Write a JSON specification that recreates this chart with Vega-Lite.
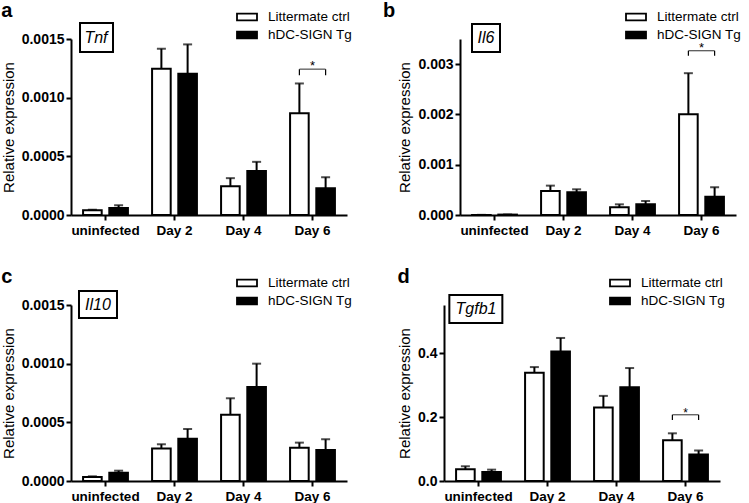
{
  "$schema": "https://vega.github.io/schema/vega-lite/v6.json",
  "background": "white",
  "padding": {"left": 1, "top": 1, "right": 0, "bottom": 0},
  "datasets": {
    "expr": [
      {"gene": "Tnf", "day": "uninfected", "group": "Littermate ctrl", "mean": 0.00004, "upper": 0.000045},
      {"gene": "Tnf", "day": "uninfected", "group": "hDC-SIGN Tg", "mean": 0.00006, "upper": 0.000083},
      {"gene": "Tnf", "day": "Day 2", "group": "Littermate ctrl", "mean": 0.001246, "upper": 0.001417},
      {"gene": "Tnf", "day": "Day 2", "group": "hDC-SIGN Tg", "mean": 0.001203, "upper": 0.001454},
      {"gene": "Tnf", "day": "Day 4", "group": "Littermate ctrl", "mean": 0.000245, "upper": 0.000314},
      {"gene": "Tnf", "day": "Day 4", "group": "hDC-SIGN Tg", "mean": 0.000374, "upper": 0.000453},
      {"gene": "Tnf", "day": "Day 6", "group": "Littermate ctrl", "mean": 0.000867, "upper": 0.001121},
      {"gene": "Tnf", "day": "Day 6", "group": "hDC-SIGN Tg", "mean": 0.000228, "upper": 0.000322},
      {"gene": "Il6", "day": "uninfected", "group": "Littermate ctrl", "mean": 0.000002, "upper": 0.000003},
      {"gene": "Il6", "day": "uninfected", "group": "hDC-SIGN Tg", "mean": 0.000008, "upper": 0.00001},
      {"gene": "Il6", "day": "Day 2", "group": "Littermate ctrl", "mean": 0.000478, "upper": 0.000584},
      {"gene": "Il6", "day": "Day 2", "group": "hDC-SIGN Tg", "mean": 0.000451, "upper": 0.000511},
      {"gene": "Il6", "day": "Day 4", "group": "Littermate ctrl", "mean": 0.000153, "upper": 0.000212},
      {"gene": "Il6", "day": "Day 4", "group": "hDC-SIGN Tg", "mean": 0.000212, "upper": 0.000279},
      {"gene": "Il6", "day": "Day 6", "group": "Littermate ctrl", "mean": 0.002004, "upper": 0.00282},
      {"gene": "Il6", "day": "Day 6", "group": "hDC-SIGN Tg", "mean": 0.000365, "upper": 0.000551},
      {"gene": "Il10", "day": "uninfected", "group": "Littermate ctrl", "mean": 0.000034, "upper": 0.00004},
      {"gene": "Il10", "day": "uninfected", "group": "hDC-SIGN Tg", "mean": 0.000071, "upper": 0.000088},
      {"gene": "Il10", "day": "Day 2", "group": "Littermate ctrl", "mean": 0.000278, "upper": 0.000313},
      {"gene": "Il10", "day": "Day 2", "group": "hDC-SIGN Tg", "mean": 0.000361, "upper": 0.000443},
      {"gene": "Il10", "day": "Day 4", "group": "Littermate ctrl", "mean": 0.000565, "upper": 0.000705},
      {"gene": "Il10", "day": "Day 4", "group": "hDC-SIGN Tg", "mean": 0.000801, "upper": 0.001},
      {"gene": "Il10", "day": "Day 6", "group": "Littermate ctrl", "mean": 0.000284, "upper": 0.000327},
      {"gene": "Il10", "day": "Day 6", "group": "hDC-SIGN Tg", "mean": 0.000264, "upper": 0.000355},
      {"gene": "Tgfb1", "day": "uninfected", "group": "Littermate ctrl", "mean": 0.0366, "upper": 0.046},
      {"gene": "Tgfb1", "day": "uninfected", "group": "hDC-SIGN Tg", "mean": 0.028, "upper": 0.0355},
      {"gene": "Tgfb1", "day": "Day 2", "group": "Littermate ctrl", "mean": 0.338, "upper": 0.356},
      {"gene": "Tgfb1", "day": "Day 2", "group": "hDC-SIGN Tg", "mean": 0.405, "upper": 0.447},
      {"gene": "Tgfb1", "day": "Day 4", "group": "Littermate ctrl", "mean": 0.23, "upper": 0.266},
      {"gene": "Tgfb1", "day": "Day 4", "group": "hDC-SIGN Tg", "mean": 0.293, "upper": 0.353},
      {"gene": "Tgfb1", "day": "Day 6", "group": "Littermate ctrl", "mean": 0.127, "upper": 0.149},
      {"gene": "Tgfb1", "day": "Day 6", "group": "hDC-SIGN Tg", "mean": 0.0825, "upper": 0.095}
    ],
    "sig": [
      {"gene": "Tnf", "day": "Day 6", "group": "Littermate ctrl", "top": 0.001243, "bottom": 0.00119, "mark": "*"},
      {"gene": "Tnf", "day": "Day 6", "group": "hDC-SIGN Tg", "top": 0.001243, "bottom": 0.00119, "mark": "*"},
      {"gene": "Il6", "day": "Day 6", "group": "Littermate ctrl", "top": 0.003267, "bottom": 0.003167, "mark": "*"},
      {"gene": "Il6", "day": "Day 6", "group": "hDC-SIGN Tg", "top": 0.003267, "bottom": 0.003167, "mark": "*"},
      {"gene": "Tgfb1", "day": "Day 6", "group": "Littermate ctrl", "top": 0.207, "bottom": 0.191, "mark": "*"},
      {"gene": "Tgfb1", "day": "Day 6", "group": "hDC-SIGN Tg", "top": 0.207, "bottom": 0.191, "mark": "*"}
    ],
    "genes": [
      {"gene": "Tnf", "label": "Tnf"},
      {"gene": "Il6", "label": "Il6"},
      {"gene": "Il10", "label": "Il10"},
      {"gene": "Tgfb1", "label": "Tgfb1"}
    ]
  },
  "config": {
    "font": "Liberation Sans",
    "view": {"stroke": null},
    "axis": {
      "domainColor": "black", "domainWidth": 2, "tickColor": "black", "tickWidth": 2, "tickSize": 5,
      "labelColor": "black", "labelFontWeight": "bold", "labelFontSize": 14, "labelFont": "Liberation Sans",
      "titleFont": "Liberation Sans", "titleFontWeight": "normal", "titleColor": "black", "grid": false
    },
    "axisX": {"labelAngle": 0, "labelFontSize": 13.5, "labelPadding": 3, "labelOverlap": false},
    "axisY": {"titleFontSize": 15, "titlePadding": 5, "labelPadding": 2},
    "legend": {
      "orient": "none", "title": null, "padding": 0, "labelFont": "Liberation Sans", "labelFontSize": 13.5,
      "labelColor": "black", "labelOffset": 10, "rowPadding": -1,
      "symbolType": "M-1,-0.33H1V0.33H-1Z", "symbolSize": 400, "symbolStrokeColor": "black", "symbolStrokeWidth": 1.8
    },
    "title": {"font": "Liberation Sans", "fontSize": 20, "fontWeight": "bold", "color": "black", "anchor": "start", "frame": "bounds", "offset": -15}
  },
  "spacing": 30,
  "resolve": {
    "scale": {"x": "independent", "xOffset": "independent", "y": "independent", "fill": "independent"},
    "axis": {"x": "independent", "y": "independent"},
    "legend": {"fill": "independent"}
  },
  "vconcat": [
    {
      "spacing": 29,
      "resolve": {
        "scale": {"x": "independent", "xOffset": "independent", "y": "independent", "fill": "independent"},
        "axis": {"x": "independent", "y": "independent"},
        "legend": {"fill": "independent"}
      },
      "hconcat": [
        {
          "width": 276, "height": 176,
          "title": {"text": "a"},
          "encoding": {
            "x": {"field": "day", "type": "nominal", "sort": ["uninfected", "Day 2", "Day 4", "Day 6"], "scale": {"paddingInner": 0.35, "paddingOuter": 0.175}, "axis": {"title": null}}
          },
          "layer": [
            {
              "data": {"name": "expr"}, "transform": [{"filter": "datum.gene === 'Tnf'"}],
              "mark": {"type": "bar", "stroke": "black", "strokeWidth": 2},
              "encoding": {
                "xOffset": {"field": "group", "type": "nominal", "sort": ["Littermate ctrl", "hDC-SIGN Tg"], "scale": {"paddingInner": 0.29, "paddingOuter": 0}},
                "y": {"field": "mean", "type": "quantitative", "scale": {"domain": [0, 0.0015], "nice": false}, "axis": {"values": [0, 0.0005, 0.001, 0.0015], "format": ".4f", "title": "Relative expression"}},
                "fill": {"field": "group", "type": "nominal", "scale": {"domain": ["Littermate ctrl", "hDC-SIGN Tg"], "range": ["white", "black"]}, "legend": {"legendX": 165, "legendY": -33}}
              }
            },
            {
              "data": {"name": "expr"}, "transform": [{"filter": "datum.gene === 'Tnf'"}],
              "mark": {"type": "rule", "color": "black", "strokeWidth": 2},
              "encoding": {"xOffset": {"field": "group", "type": "nominal", "sort": ["Littermate ctrl", "hDC-SIGN Tg"]}, "y": {"field": "mean", "type": "quantitative"}, "y2": {"field": "upper"}}
            },
            {
              "data": {"name": "expr"}, "transform": [{"filter": "datum.gene === 'Tnf'"}],
              "mark": {"type": "tick", "color": "black", "thickness": 2, "size": 9},
              "encoding": {"xOffset": {"field": "group", "type": "nominal", "sort": ["Littermate ctrl", "hDC-SIGN Tg"]}, "y": {"field": "upper", "type": "quantitative"}}
            },
            {
              "data": {"name": "sig"}, "transform": [{"filter": "datum.gene === 'Tnf'"}],
              "mark": {"type": "rule", "color": "black", "strokeWidth": 1.2},
              "encoding": {"xOffset": {"field": "group", "type": "nominal", "sort": ["Littermate ctrl", "hDC-SIGN Tg"]}, "y": {"field": "top", "type": "quantitative"}, "y2": {"field": "bottom"}}
            },
            {
              "data": {"name": "sig"}, "transform": [{"filter": "datum.gene === 'Tnf' && datum.group === 'Littermate ctrl'"}],
              "mark": {"type": "tick", "color": "black", "thickness": 1.2, "size": 26},
              "encoding": {"y": {"field": "top", "type": "quantitative"}}
            },
            {
              "data": {"name": "sig"}, "transform": [{"filter": "datum.gene === 'Tnf' && datum.group === 'Littermate ctrl'"}],
              "mark": {"type": "text", "fontSize": 13, "dy": 1, "baseline": "alphabetic", "color": "black"},
              "encoding": {"y": {"field": "top", "type": "quantitative"}, "text": {"field": "mark"}}
            },
            {
              "data": {"name": "genes"}, "transform": [{"filter": "datum.gene === 'Tnf'"}],
              "mark": {"type": "point", "shape": "M-1.545,-0.97H0.455V0.788H-1.545Z", "size": 1089, "filled": false, "stroke": "black", "strokeWidth": 2, "opacity": 1},
              "encoding": {"x": {"datum": "uninfected"}, "y": {"datum": 0.0015}}
            },
            {
              "data": {"name": "genes"}, "transform": [{"filter": "datum.gene === 'Tnf'"}],
              "mark": {"type": "text", "fontSize": 16, "fontStyle": "italic", "dx": -9.5, "dy": -1.5, "baseline": "middle", "color": "black"},
              "encoding": {"x": {"datum": "uninfected"}, "y": {"datum": 0.0015}, "text": {"field": "label"}}
            }
          ]
        },
        {
          "width": 276, "height": 176,
          "title": {"text": "b", "dx": -15},
          "encoding": {
            "x": {"field": "day", "type": "nominal", "sort": ["uninfected", "Day 2", "Day 4", "Day 6"], "scale": {"paddingInner": 0.35, "paddingOuter": 0.175}, "axis": {"title": null}}
          },
          "layer": [
            {
              "data": {"name": "expr"}, "transform": [{"filter": "datum.gene === 'Il6'"}],
              "mark": {"type": "bar", "stroke": "black", "strokeWidth": 2},
              "encoding": {
                "xOffset": {"field": "group", "type": "nominal", "sort": ["Littermate ctrl", "hDC-SIGN Tg"], "scale": {"paddingInner": 0.29, "paddingOuter": 0}},
                "y": {"field": "mean", "type": "quantitative", "scale": {"domain": [0, 0.0035], "nice": false}, "axis": {"values": [0, 0.001, 0.002, 0.003], "format": ".3f", "title": "Relative expression"}},
                "fill": {"field": "group", "type": "nominal", "scale": {"domain": ["Littermate ctrl", "hDC-SIGN Tg"], "range": ["white", "black"]}, "legend": {"legendX": 165, "legendY": -33}}
              }
            },
            {
              "data": {"name": "expr"}, "transform": [{"filter": "datum.gene === 'Il6'"}],
              "mark": {"type": "rule", "color": "black", "strokeWidth": 2},
              "encoding": {"xOffset": {"field": "group", "type": "nominal", "sort": ["Littermate ctrl", "hDC-SIGN Tg"]}, "y": {"field": "mean", "type": "quantitative"}, "y2": {"field": "upper"}}
            },
            {
              "data": {"name": "expr"}, "transform": [{"filter": "datum.gene === 'Il6'"}],
              "mark": {"type": "tick", "color": "black", "thickness": 2, "size": 9},
              "encoding": {"xOffset": {"field": "group", "type": "nominal", "sort": ["Littermate ctrl", "hDC-SIGN Tg"]}, "y": {"field": "upper", "type": "quantitative"}}
            },
            {
              "data": {"name": "sig"}, "transform": [{"filter": "datum.gene === 'Il6'"}],
              "mark": {"type": "rule", "color": "black", "strokeWidth": 1.2},
              "encoding": {"xOffset": {"field": "group", "type": "nominal", "sort": ["Littermate ctrl", "hDC-SIGN Tg"]}, "y": {"field": "top", "type": "quantitative"}, "y2": {"field": "bottom"}}
            },
            {
              "data": {"name": "sig"}, "transform": [{"filter": "datum.gene === 'Il6' && datum.group === 'Littermate ctrl'"}],
              "mark": {"type": "tick", "color": "black", "thickness": 1.2, "size": 26},
              "encoding": {"y": {"field": "top", "type": "quantitative"}}
            },
            {
              "data": {"name": "sig"}, "transform": [{"filter": "datum.gene === 'Il6' && datum.group === 'Littermate ctrl'"}],
              "mark": {"type": "text", "fontSize": 13, "dy": 1, "baseline": "alphabetic", "color": "black"},
              "encoding": {"y": {"field": "top", "type": "quantitative"}, "text": {"field": "mark"}}
            },
            {
              "data": {"name": "genes"}, "transform": [{"filter": "datum.gene === 'Il6'"}],
              "mark": {"type": "point", "shape": "M-1.607,-1.071H0.393V0.929H-1.607Z", "size": 784, "filled": false, "stroke": "black", "strokeWidth": 2, "opacity": 1},
              "encoding": {"x": {"datum": "uninfected"}, "y": {"datum": 0.0035}}
            },
            {
              "data": {"name": "genes"}, "transform": [{"filter": "datum.gene === 'Il6'"}],
              "mark": {"type": "text", "fontSize": 16, "fontStyle": "italic", "dx": -8.5, "dy": -1, "baseline": "middle", "color": "black"},
              "encoding": {"x": {"datum": "uninfected"}, "y": {"datum": 0.0035}, "text": {"field": "label"}}
            }
          ]
        }
      ]
    },
    {
      "spacing": 44,
      "resolve": {
        "scale": {"x": "independent", "xOffset": "independent", "y": "independent", "fill": "independent"},
        "axis": {"x": "independent", "y": "independent"},
        "legend": {"fill": "independent"}
      },
      "hconcat": [
        {
          "width": 276, "height": 176,
          "title": {"text": "c"},
          "encoding": {
            "x": {"field": "day", "type": "nominal", "sort": ["uninfected", "Day 2", "Day 4", "Day 6"], "scale": {"paddingInner": 0.35, "paddingOuter": 0.175}, "axis": {"title": null}}
          },
          "layer": [
            {
              "data": {"name": "expr"}, "transform": [{"filter": "datum.gene === 'Il10'"}],
              "mark": {"type": "bar", "stroke": "black", "strokeWidth": 2},
              "encoding": {
                "xOffset": {"field": "group", "type": "nominal", "sort": ["Littermate ctrl", "hDC-SIGN Tg"], "scale": {"paddingInner": 0.29, "paddingOuter": 0}},
                "y": {"field": "mean", "type": "quantitative", "scale": {"domain": [0, 0.0015], "nice": false}, "axis": {"values": [0, 0.0005, 0.001, 0.0015], "format": ".4f", "title": "Relative expression"}},
                "fill": {"field": "group", "type": "nominal", "scale": {"domain": ["Littermate ctrl", "hDC-SIGN Tg"], "range": ["white", "black"]}, "legend": {"legendX": 165, "legendY": -33}}
              }
            },
            {
              "data": {"name": "expr"}, "transform": [{"filter": "datum.gene === 'Il10'"}],
              "mark": {"type": "rule", "color": "black", "strokeWidth": 2},
              "encoding": {"xOffset": {"field": "group", "type": "nominal", "sort": ["Littermate ctrl", "hDC-SIGN Tg"]}, "y": {"field": "mean", "type": "quantitative"}, "y2": {"field": "upper"}}
            },
            {
              "data": {"name": "expr"}, "transform": [{"filter": "datum.gene === 'Il10'"}],
              "mark": {"type": "tick", "color": "black", "thickness": 2, "size": 9},
              "encoding": {"xOffset": {"field": "group", "type": "nominal", "sort": ["Littermate ctrl", "hDC-SIGN Tg"]}, "y": {"field": "upper", "type": "quantitative"}}
            },
            {
              "data": {"name": "genes"}, "transform": [{"filter": "datum.gene === 'Il10'"}],
              "mark": {"type": "point", "shape": "M-1.395,-0.737H0.605V0.684H-1.395Z", "size": 1444, "filled": false, "stroke": "black", "strokeWidth": 2, "opacity": 1},
              "encoding": {"x": {"datum": "uninfected"}, "y": {"datum": 0.0015}}
            },
            {
              "data": {"name": "genes"}, "transform": [{"filter": "datum.gene === 'Il10'"}],
              "mark": {"type": "text", "fontSize": 16, "fontStyle": "italic", "dx": -7.5, "dy": -0.5, "baseline": "middle", "color": "black"},
              "encoding": {"x": {"datum": "uninfected"}, "y": {"datum": 0.0015}, "text": {"field": "label"}}
            }
          ]
        },
        {
          "width": 276, "height": 176,
          "title": {"text": "d"},
          "encoding": {
            "x": {"field": "day", "type": "nominal", "sort": ["uninfected", "Day 2", "Day 4", "Day 6"], "scale": {"paddingInner": 0.35, "paddingOuter": 0.175}, "axis": {"title": null}}
          },
          "layer": [
            {
              "data": {"name": "expr"}, "transform": [{"filter": "datum.gene === 'Tgfb1'"}],
              "mark": {"type": "bar", "stroke": "black", "strokeWidth": 2},
              "encoding": {
                "xOffset": {"field": "group", "type": "nominal", "sort": ["Littermate ctrl", "hDC-SIGN Tg"], "scale": {"paddingInner": 0.29, "paddingOuter": 0}},
                "y": {"field": "mean", "type": "quantitative", "scale": {"domain": [0, 0.55], "nice": false}, "axis": {"values": [0, 0.2, 0.4], "format": ".1f", "title": "Relative expression"}},
                "fill": {"field": "group", "type": "nominal", "scale": {"domain": ["Littermate ctrl", "hDC-SIGN Tg"], "range": ["white", "black"]}, "legend": {"legendX": 165, "legendY": -33}}
              }
            },
            {
              "data": {"name": "expr"}, "transform": [{"filter": "datum.gene === 'Tgfb1'"}],
              "mark": {"type": "rule", "color": "black", "strokeWidth": 2},
              "encoding": {"xOffset": {"field": "group", "type": "nominal", "sort": ["Littermate ctrl", "hDC-SIGN Tg"]}, "y": {"field": "mean", "type": "quantitative"}, "y2": {"field": "upper"}}
            },
            {
              "data": {"name": "expr"}, "transform": [{"filter": "datum.gene === 'Tgfb1'"}],
              "mark": {"type": "tick", "color": "black", "thickness": 2, "size": 9},
              "encoding": {"xOffset": {"field": "group", "type": "nominal", "sort": ["Littermate ctrl", "hDC-SIGN Tg"]}, "y": {"field": "upper", "type": "quantitative"}}
            },
            {
              "data": {"name": "sig"}, "transform": [{"filter": "datum.gene === 'Tgfb1'"}],
              "mark": {"type": "rule", "color": "black", "strokeWidth": 1.2},
              "encoding": {"xOffset": {"field": "group", "type": "nominal", "sort": ["Littermate ctrl", "hDC-SIGN Tg"]}, "y": {"field": "top", "type": "quantitative"}, "y2": {"field": "bottom"}}
            },
            {
              "data": {"name": "sig"}, "transform": [{"filter": "datum.gene === 'Tgfb1' && datum.group === 'Littermate ctrl'"}],
              "mark": {"type": "tick", "color": "black", "thickness": 1.2, "size": 26},
              "encoding": {"y": {"field": "top", "type": "quantitative"}}
            },
            {
              "data": {"name": "sig"}, "transform": [{"filter": "datum.gene === 'Tgfb1' && datum.group === 'Littermate ctrl'"}],
              "mark": {"type": "text", "fontSize": 12, "dy": 2, "baseline": "alphabetic", "color": "black"},
              "encoding": {"y": {"field": "top", "type": "quantitative"}, "text": {"field": "mark"}}
            },
            {
              "data": {"name": "genes"}, "transform": [{"filter": "datum.gene === 'Tgfb1'"}],
              "mark": {"type": "point", "shape": "M-1.1,-0.377H0.9V0.679H-1.1Z", "size": 2809, "filled": false, "stroke": "black", "strokeWidth": 2, "opacity": 1},
              "encoding": {"x": {"datum": "uninfected"}, "y": {"datum": 0.55}}
            },
            {
              "data": {"name": "genes"}, "transform": [{"filter": "datum.gene === 'Tgfb1'"}],
              "mark": {"type": "text", "fontSize": 16, "fontStyle": "italic", "dx": -2.5, "dy": 4, "baseline": "middle", "color": "black"},
              "encoding": {"x": {"datum": "uninfected"}, "y": {"datum": 0.55}, "text": {"field": "label"}}
            }
          ]
        }
      ]
    }
  ]
}
